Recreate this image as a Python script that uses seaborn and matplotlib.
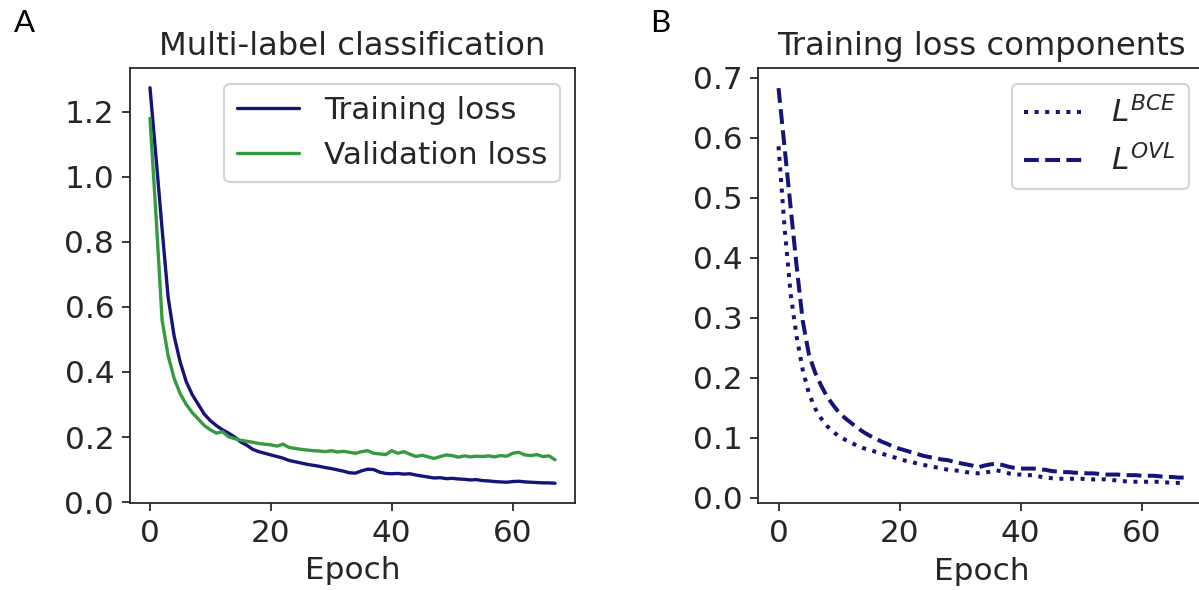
import numpy as np
import pandas as pd
import matplotlib
matplotlib.use("Agg")
import matplotlib.pyplot as plt
import seaborn as sns

# ---- data -------------------------------------------------------------
epochs = list(range(68))

train_loss = [
    1.274, 1.06, 0.84, 0.63, 0.51, 0.43, 0.37, 0.33, 0.30, 0.27,
    0.25, 0.235, 0.222, 0.212, 0.20, 0.185, 0.175, 0.162, 0.155, 0.150,
    0.145, 0.140, 0.135, 0.128, 0.124, 0.120, 0.116, 0.113, 0.110, 0.106,
    0.103, 0.099, 0.095, 0.090, 0.089, 0.096, 0.101, 0.100, 0.092, 0.088,
    0.087, 0.088, 0.086, 0.087, 0.083, 0.080, 0.077, 0.074, 0.075, 0.072,
    0.073, 0.071, 0.070, 0.068, 0.069, 0.066, 0.065, 0.063, 0.062, 0.061,
    0.063, 0.064, 0.062, 0.061, 0.060, 0.059, 0.059, 0.058,
]

val_loss = [
    1.18, 0.88, 0.56, 0.45, 0.38, 0.333, 0.30, 0.275, 0.255, 0.235,
    0.222, 0.212, 0.216, 0.201, 0.195, 0.190, 0.187, 0.184, 0.180, 0.178,
    0.176, 0.172, 0.178, 0.168, 0.165, 0.162, 0.160, 0.158, 0.157, 0.155,
    0.158, 0.154, 0.156, 0.153, 0.150, 0.155, 0.158, 0.150, 0.148, 0.146,
    0.158, 0.150, 0.155, 0.147, 0.140, 0.144, 0.139, 0.134, 0.140, 0.145,
    0.143, 0.138, 0.142, 0.139, 0.141, 0.140, 0.142, 0.139, 0.143, 0.141,
    0.150, 0.153, 0.145, 0.143, 0.146, 0.140, 0.142, 0.130,
]

loss_bce = [
    0.586, 0.450, 0.340, 0.268, 0.213, 0.175, 0.150, 0.133, 0.120, 0.110,
    0.103, 0.097, 0.092, 0.087, 0.083, 0.080, 0.077, 0.074, 0.071, 0.068,
    0.065, 0.062, 0.060, 0.057, 0.055, 0.053, 0.051, 0.049, 0.047, 0.046,
    0.045, 0.043, 0.042, 0.041, 0.042, 0.044, 0.046, 0.044, 0.041, 0.039,
    0.039, 0.038, 0.038, 0.036, 0.034, 0.033, 0.032, 0.032, 0.032, 0.032,
    0.032, 0.031, 0.031, 0.031, 0.031, 0.030, 0.029, 0.028, 0.027, 0.027,
    0.027, 0.027, 0.027, 0.027, 0.026, 0.025, 0.025, 0.024,
]

loss_ovl = [
    0.683, 0.584, 0.484, 0.385, 0.295, 0.240, 0.210, 0.188, 0.169, 0.155,
    0.142, 0.133, 0.125, 0.117, 0.110, 0.104, 0.099, 0.094, 0.090, 0.085,
    0.082, 0.079, 0.076, 0.073, 0.070, 0.068, 0.066, 0.064, 0.063, 0.060,
    0.058, 0.056, 0.054, 0.051, 0.054, 0.056, 0.057, 0.055, 0.052, 0.050,
    0.049, 0.049, 0.049, 0.048, 0.047, 0.045, 0.044, 0.043, 0.043, 0.042,
    0.042, 0.041, 0.041, 0.040, 0.039, 0.039, 0.039, 0.038, 0.038, 0.038,
    0.037, 0.037, 0.037, 0.036, 0.035, 0.035, 0.034, 0.034,
]

titles = ["Multi-label classification", "Training loss components"]
xlabel = "Epoch"
panel_tags = ["A", "B"]

# ---- style ------------------------------------------------------------
sns.set_style("ticks")
plt.rcParams.update({
    "font.family": "DejaVu Sans",
    "font.size": 14,
    "axes.titlesize": 14.5,
    "axes.labelsize": 14,
    "xtick.labelsize": 14,
    "ytick.labelsize": 14,
    "legend.fontsize": 14,
    "axes.linewidth": 0.8,
    "axes.edgecolor": "0.15",
    "xtick.major.size": 3.5,
    "ytick.major.size": 3.5,
    "xtick.major.width": 0.8,
    "ytick.major.width": 0.8,
    "lines.linewidth": 1.5,
    "mathtext.fontset": "dejavusans",
})

DPI = 160
fig = plt.figure(figsize=(1199 / DPI, 590 / DPI), dpi=DPI)
ax_a = fig.add_axes([0.1082, 0.1475, 0.3716, 0.7373])
ax_b = fig.add_axes([0.6324, 0.1469, 0.3722, 0.7373])

navy = "#14147a"
green = "#359a40"

# Panel A: overall training / validation loss
df_a = pd.DataFrame({"epoch": epochs, "train": train_loss, "val": val_loss})
sns.lineplot(data=df_a, x="epoch", y="train", ax=ax_a, color=navy,
             label="Training loss", linewidth=1.5)
sns.lineplot(data=df_a, x="epoch", y="val", ax=ax_a, color=green,
             label="Validation loss", linewidth=1.5)
ax_a.set_title(titles[0])
ax_a.set_xlabel(xlabel)
ax_a.set_ylabel("")
ax_a.set_xticks([0, 20, 40, 60])
ax_a.set_yticks([0.0, 0.2, 0.4, 0.6, 0.8, 1.0, 1.2])
ax_a.legend(loc="upper right")

# Panel B: components of the training loss
df_b = pd.DataFrame({"epoch": epochs, "bce": loss_bce, "ovl": loss_ovl})
sns.lineplot(data=df_b, x="epoch", y="bce", ax=ax_b, color=navy,
             linestyle=":", linewidth=1.8, label=r"$L^{BCE}$")
sns.lineplot(data=df_b, x="epoch", y="ovl", ax=ax_b, color=navy,
             linestyle="--", linewidth=1.8, label=r"$L^{OVL}$")
ax_b.set_title(titles[1])
ax_b.set_xlabel(xlabel)
ax_b.set_ylabel("")
ax_b.set_xticks([0, 20, 40, 60])
ax_b.set_yticks([0.0, 0.1, 0.2, 0.3, 0.4, 0.5, 0.6, 0.7])
ax_b.legend(loc="upper right")
# the right edge of this panel runs past the canvas
ax_b.spines["right"].set_visible(False)

for ax in (ax_a, ax_b):
    ax.margins(x=0.05, y=0.05)

fig.text(14 / 1199, 1 - 32 / 590, panel_tags[0], fontsize=14,
         family="Lato", va="baseline", ha="left", color="black")
fig.text(650 / 1199, 1 - 32 / 590, panel_tags[1], fontsize=14,
         family="Lato", va="baseline", ha="left", color="black")

fig.savefig("out.png", dpi=DPI, facecolor="white")
